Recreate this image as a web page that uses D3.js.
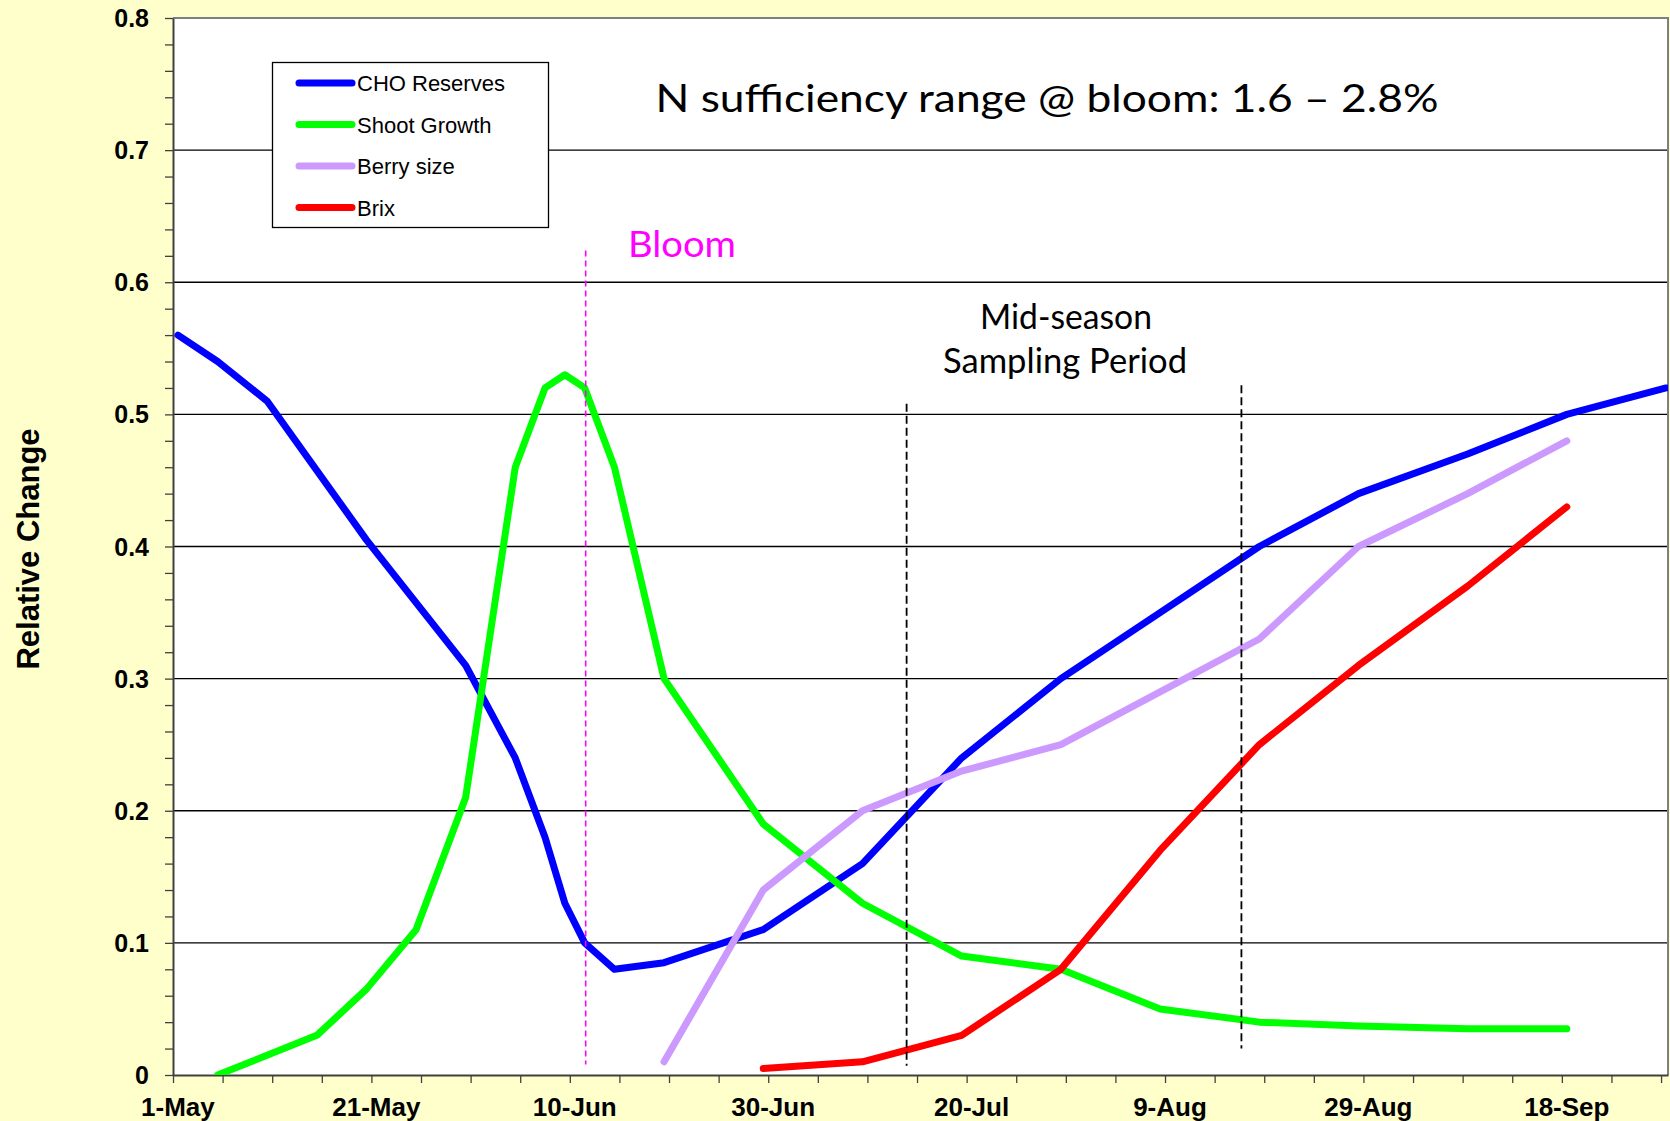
<!DOCTYPE html>
<meta charset="utf-8">
<html lang="en">
<head>
<title>Relative Change</title>
<script src="https://d3js.org/d3.v7.min.js"></script>
<style>
  body { margin: 0; background: #FFFFCC; }
  svg { display: block; }
  .arial { font-family: "Liberation Sans", Arial, sans-serif; }
  .calib { font-family: Lato, "Open Sans", sans-serif; }
</style>
</head>
<body>
<div id="chart"></div>
<script>

// days counted from 1-May
var choDays = [0, 4, 9, 19, 29, 34, 37, 39, 41, 44, 49, 59, 69, 79, 89, 99, 109, 119, 130, 140, 150];
var choValues = [0.56, 0.54, 0.51, 0.405, 0.31, 0.24, 0.18, 0.13, 0.10, 0.08, 0.085, 0.11, 0.16, 0.24, 0.30, 0.35, 0.40, 0.44, 0.47, 0.50, 0.52];

var shootDays = [4, 14, 19, 24, 29, 34, 37, 39, 41, 44, 49, 59, 69, 79, 89, 99, 109, 119, 130, 140];
var shootValues = [0, 0.03, 0.065, 0.11, 0.21, 0.46, 0.52, 0.53, 0.52, 0.46, 0.30, 0.19, 0.13, 0.09, 0.08, 0.05, 0.04, 0.037, 0.035, 0.035];

var berryDays = [49, 59, 69, 79, 89, 99, 109, 119, 130, 140];
var berryValues = [0.01, 0.14, 0.20, 0.23, 0.25, 0.29, 0.33, 0.40, 0.44, 0.48];

var brixDays = [59, 69, 79, 89, 99, 109, 119, 130, 140];
var brixValues = [0.005, 0.01, 0.03, 0.08, 0.17, 0.25, 0.31, 0.37, 0.43];

var seriesNames = ["CHO Reserves", "Shoot Growth", "Berry size", "Brix"];
var seriesColors = ["#0000FF", "#00FF00", "#CC99FF", "#FF0000"];

var xTickLabels = ["1-May", "21-May", "10-Jun", "30-Jun", "20-Jul", "9-Aug", "29-Aug", "18-Sep"];
var xTickDays = [0, 20, 40, 60, 80, 100, 120, 140];

var bloomDay = 41.1;
var samplingDays = [73.45, 107.2];

var W = 1670, H = 1121;
var plotL = 173, plotR = 1668, plotT = 18, plotB = 1075;

var x = d3.scaleLinear().domain([0, 150.7]).range([plotL, plotR]);
var y = d3.scaleLinear().domain([0, 0.8]).range([plotB, plotT]);

var svg = d3.select("#chart").append("svg")
    .attr("width", W)
    .attr("height", H);

svg.append("rect").attr("width", W).attr("height", H).attr("fill", "#FFFFCC");

// plot area
svg.append("rect")
    .attr("x", plotL).attr("y", plotT)
    .attr("width", plotR - plotL).attr("height", plotB - plotT)
    .attr("fill", "white");

// horizontal grid lines
svg.append("g").selectAll("line")
    .data(d3.range(1, 8).map(function (i) { return i / 10; }))
    .enter().append("line")
    .attr("x1", plotL).attr("x2", plotR)
    .attr("y1", function (d) { return y(d); })
    .attr("y2", function (d) { return y(d); })
    .attr("stroke", "black")
    .attr("stroke-width", 1.3);

// frame top and right
svg.append("path")
    .attr("d", "M" + plotL + "," + y(0.8) + "H" + plotR + "V" + plotB)
    .attr("fill", "none")
    .attr("stroke", "#808080")
    .attr("stroke-width", 2);

// y axis
var yAxis = d3.axisLeft(y)
    .tickValues(d3.range(0, 41).map(function (i) { return i * 0.02; }))
    .tickSize(8)
    .tickSizeOuter(0)
    .tickFormat("");
svg.append("g").attr("transform", "translate(" + plotL + ",0)").call(yAxis)
    .call(function (g) {
        g.selectAll("path").attr("stroke", "#404040").attr("stroke-width", 2);
        g.selectAll("line").attr("stroke", "#404040").attr("stroke-width", 1.3);
    });

svg.append("g").selectAll("text")
    .data(d3.range(0, 9).map(function (i) { return i / 10; }))
    .enter().append("text")
    .attr("class", "arial")
    .attr("x", plotL - 24)
    .attr("y", function (d) { return y(d) + 9; })
    .attr("text-anchor", "end")
    .attr("font-size", 25)
    .attr("font-weight", "bold")
    .text(function (d) { return d === 0 ? "0" : d.toFixed(1); });

// x axis
var xAxis = d3.axisBottom(x)
    .tickValues(d3.range(0, 151, 5))
    .tickSize(8)
    .tickSizeOuter(0)
    .tickFormat("");
svg.append("g").attr("transform", "translate(0," + plotB + ")").call(xAxis)
    .call(function (g) {
        g.selectAll("path").attr("stroke", "#404040").attr("stroke-width", 2);
        g.selectAll("line").attr("stroke", "#404040").attr("stroke-width", 1.3);
    });

svg.append("g").selectAll("text")
    .data(xTickDays)
    .enter().append("text")
    .attr("class", "arial")
    .attr("x", function (d) { return x(d + 0.5); })
    .attr("y", 1116)
    .attr("text-anchor", "middle")
    .attr("font-size", 26)
    .attr("font-weight", "bold")
    .text(function (d, i) { return xTickLabels[i]; });

// y axis title
svg.append("text")
    .attr("class", "arial")
    .attr("transform", "translate(39,549) rotate(-90)")
    .attr("text-anchor", "middle")
    .attr("font-size", 31)
    .attr("font-weight", "bold")
    .text("Relative Change");

// series lines
var line = d3.line()
    .x(function (d) { return x(d[0] + 0.5); })
    .y(function (d) { return y(d[1]); });

var series = [
    d3.zip(choDays, choValues),
    d3.zip(shootDays, shootValues),
    d3.zip(berryDays, berryValues),
    d3.zip(brixDays, brixValues)
];

svg.append("clipPath").attr("id", "plotclip")
    .append("rect").attr("x", plotL).attr("y", plotT)
    .attr("width", plotR - plotL).attr("height", plotB - plotT);

svg.append("g").attr("clip-path", "url(#plotclip)")
    .selectAll("path")
    .data(series)
    .enter().append("path")
    .attr("d", line)
    .attr("fill", "none")
    .attr("stroke", function (d, i) { return seriesColors[i]; })
    .attr("stroke-width", 7)
    .attr("stroke-linejoin", "round")
    .attr("stroke-linecap", "round");

// bloom marker
svg.append("line")
    .attr("x1", x(bloomDay + 0.5)).attr("x2", x(bloomDay + 0.5))
    .attr("y1", y(0.624)).attr("y2", y(0.008))
    .attr("stroke", "#FF00FF")
    .attr("stroke-width", 1.6)
    .attr("stroke-dasharray", "6,4");

// sampling period markers
svg.append("g").selectAll("line")
    .data(samplingDays)
    .enter().append("line")
    .attr("x1", function (d) { return x(d + 0.5); })
    .attr("x2", function (d) { return x(d + 0.5); })
    .attr("y1", function (d, i) { return i === 0 ? y(0.508) : y(0.522); })
    .attr("y2", function (d, i) { return i === 0 ? y(0.007) : y(0.02); })
    .attr("stroke", "black")
    .attr("stroke-width", 1.8)
    .attr("stroke-dasharray", "8,4");

// annotations
function note(txt, cx, baseline, size, width, color) {
    svg.append("text")
        .attr("class", "calib")
        .attr("x", cx)
        .attr("y", baseline)
        .attr("text-anchor", "middle")
        .attr("font-size", size)
        .attr("fill", color)
        .attr("textLength", width)
        .attr("lengthAdjust", "spacingAndGlyphs")
        .text(txt);
}
note("N sufficiency range @ bloom: 1.6 \u2013 2.8%", 1047, 111.5, 39.5, 783, "black");
note("Bloom", 682, 256.5, 37, 108, "#FF00FF");
note("Mid-season", 1066, 329, 34, 172, "black");
note("Sampling Period", 1065, 372.5, 34, 244, "black");

// legend
var legend = svg.append("g");
legend.append("rect")
    .attr("x", 272.5).attr("y", 62.5)
    .attr("width", 276).attr("height", 165)
    .attr("fill", "white")
    .attr("stroke", "black")
    .attr("stroke-width", 1.3);

var rows = legend.selectAll("g.row")
    .data(seriesNames)
    .enter().append("g")
    .attr("class", "row")
    .attr("transform", function (d, i) { return "translate(0," + (83 + i * 41.5) + ")"; });

rows.append("line")
    .attr("x1", 299).attr("x2", 352)
    .attr("stroke", function (d, i) { return seriesColors[i]; })
    .attr("stroke-width", 7)
    .attr("stroke-linecap", "round");

rows.append("text")
    .attr("class", "arial")
    .attr("x", 357)
    .attr("y", 8)
    .attr("font-size", 22)
    .text(function (d) { return d; });

</script>
</body>
</html>
